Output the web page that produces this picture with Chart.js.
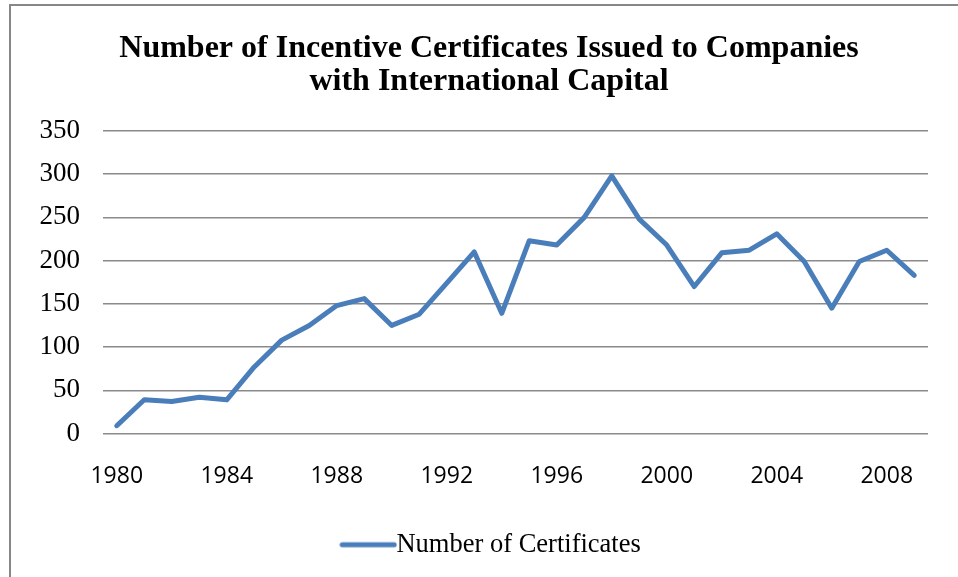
<!DOCTYPE html>
<html>
<head>
<meta charset="utf-8">
<script src="https://cdn.jsdelivr.net/npm/chart.js@4.4.1/dist/chart.umd.min.js"></script>
<style>
  html, body { margin: 0; padding: 0; background: #fff; }
  #wrap { position: relative; width: 958px; height: 577px; overflow: hidden; }
  #frame { position: absolute; left: 9px; top: 4px; width: 1000px; height: 620px;
           border-left: 2px solid #878787; border-top: 2px solid #878787; }
  #cert-chart { position: absolute; left: 0; top: 0; }
</style>
</head>
<body>
<div id="wrap">
  <div id="frame"></div>
  <canvas id="cert-chart" width="958" height="577"></canvas>
</div>
<script>
const years = [1980, 1981, 1982, 1983, 1984, 1985, 1986, 1987, 1988, 1989,
               1990, 1991, 1992, 1993, 1994, 1995, 1996, 1997, 1998, 1999,
               2000, 2001, 2002, 2003, 2004, 2005, 2006, 2007, 2008, 2009];
const certificates = [9, 39, 37, 42, 39, 77, 108, 125, 148, 156,
                      125, 138, 174, 210, 139, 223, 218, 250, 298, 248,
                      218, 170, 209, 212, 231, 199, 145, 199, 212, 183];
const yTicks = [0, 50, 100, 150, 200, 250, 300, 350];

const serif = '"Liberation Serif", "Times New Roman", serif';
const lineBlue = '#4a7ebb';
const gridGrey = '#8a8a8a';

// legend key: a short thick stroke, drawn once and handed to the legend as an image
const legendKey = document.createElement('canvas');
legendKey.width = 58;
legendKey.height = 8;
(() => {
  const k = legendKey.getContext('2d');
  k.strokeStyle = lineBlue;
  k.lineWidth = 5;
  k.lineCap = 'round';
  k.beginPath();
  k.moveTo(3, 4);
  k.lineTo(55, 4);
  k.stroke();
})();

// the y labels hang left of the layout padding, so widen their clip box;
// nudge the legend a little to the right
const layoutTweaks = {
  id: 'layoutTweaks',
  afterLayout(c) {
    c.scales.y.left = 0;
    c.legend.left += 8;
    c.legend.right += 8;
  }
};

const ctx = document.getElementById('cert-chart').getContext('2d');
const chart = new Chart(ctx, {
  type: 'line',
  data: {
    labels: years,
    datasets: [{
      label: 'Number of Certificates',
      data: certificates,
      borderColor: lineBlue,
      backgroundColor: lineBlue,
      borderWidth: 5,
      borderCapStyle: 'round',
      borderJoinStyle: 'round',
      tension: 0,
      pointRadius: 0,
      pointHoverRadius: 0
    }]
  },
  plugins: [layoutTweaks],
  options: {
    responsive: false,
    animation: false,
    layout: { padding: { left: 50, right: 30, top: 0, bottom: 9 } },
    plugins: {
      title: {
        display: true,
        text: ['Number of Incentive Certificates Issued to Companies', 'with International Capital'],
        color: '#000',
        font: { family: serif, size: 32, weight: 'bold', lineHeight: 1.03 },
        padding: { top: 32, bottom: 33 }
      },
      legend: {
        position: 'bottom',
        labels: {
          color: '#000',
          font: { family: serif, size: 26.5 },
          usePointStyle: true,
          pointStyle: legendKey,
          pointStyleWidth: 30,
          boxHeight: 26,
          padding: 10
        }
      },
      tooltip: { enabled: false }
    },
    scales: {
      x: {
        offset: true,
        grid: { display: false, drawTicks: false },
        border: { display: false },
        ticks: {
          autoSkip: false,
          maxRotation: 0,
          color: '#000',
          padding: 29,
          font: { family: '"Open Sans", sans-serif', size: 23 },
          callback: (v, i) => (years[i] - years[0]) % 4 === 0 ? String(years[i]) : ''
        },
        afterFit: s => { s.height = 88; }
      },
      y: {
        min: 0,
        max: 350,
        afterBuildTicks: s => { s.ticks = yTicks.map(v => ({ value: v })); },
        grid: { color: gridGrey, lineWidth: 1.5, drawTicks: false },
        border: { display: false },
        ticks: {
          color: '#000',
          padding: 23,
          font: { family: serif, size: 27 }
        },
        afterFit: s => { s.width = 53; }
      }
    }
  }
});
</script>
</body>
</html>
